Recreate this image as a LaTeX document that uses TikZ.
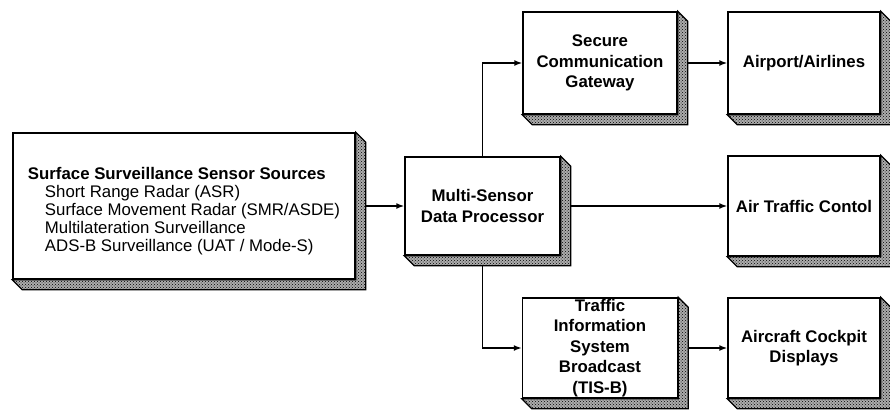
\documentclass[tikz,border=0pt]{standalone}
\usepackage{fontspec}
\setmainfont{Liberation Sans}
\usetikzlibrary{arrows.meta,patterns}

\tikzset{
  box/.style={draw, line width=1.5pt, fill=white, inner sep=0pt, align=center,
    font=\bfseries\fontsize{16.8}{20.5}\selectfont},
  srcbox/.style={box, align=left, font=\fontsize{16.8}{18}\selectfont},
  face/.style={draw=black, line width=1.2pt, fill=gray!65,
    postaction={pattern=crosshatch dots, pattern color=black}},
  link/.style={line width=1.5pt, -{Latex[length=8pt,width=6pt]}},
}

% extruded lower-right face of a box
\newcommand\boxface[1]{%
  \path[face] (#1.north east) -- ++(10,10) -- ([shift={(10,10)}]#1.south east)
    -- ([shift={(10,10)}]#1.south west) -- (#1.south west) -- (#1.south east) -- cycle;}

\begin{document}
\begin{tikzpicture}[x=1pt, y=-1pt]
\useasboundingbox (0,0) rectangle (890,409);

\node[srcbox, minimum width=342pt, minimum height=146pt] (src) at (184,206)
  {\rule{0pt}{10pt}\\[-6pt]
   \textbf{Surface Surveillance Sensor Sources}\\
   \hspace*{17pt}Short Range Radar (ASR)\\
   \hspace*{17pt}Surface Movement Radar (SMR/ASDE)\\
   \hspace*{17pt}Multilateration Surveillance\\
   \hspace*{17pt}ADS-B Surveillance (UAT / Mode-S)};

\node[box, minimum width=155pt, minimum height=98pt] (msdp) at (482.5,206)
  {Multi-Sensor\\Data Processor};
\node[box, minimum width=154pt, minimum height=102pt] (secure) at (600,63)
  {Secure\\Communication\\Gateway};
\node[box, minimum width=152pt, minimum height=102pt] (airport) at (804,63)
  {Airport/Airlines};
\node[box, minimum width=152pt, minimum height=100pt] (atc) at (804,206)
  {Air Traffic Contol};
\node[box, minimum width=155pt, minimum height=100pt] (tisb) at (600,348)
  {Traffic\\Information\\System\\Broadcast\\(TIS-B)};
\node[box, minimum width=152pt, minimum height=100pt] (cockpit) at (804,348)
  {Aircraft Cockpit\\Displays};

% connectors
\draw[link] (src.east) -- (msdp.west);
\draw[link] (msdp.north) |- (secure.west);
\draw[link] (msdp.east) -- (atc.west);
\draw[link] (msdp.south) |- (tisb.west);
\draw[link] (secure.east) -- (airport.west);
\draw[link] (tisb.east) -- (cockpit.west);

% box depth faces
\foreach \b in {src,msdp,secure,airport,atc,tisb,cockpit} {\boxface{\b}}
\end{tikzpicture}
\end{document}
